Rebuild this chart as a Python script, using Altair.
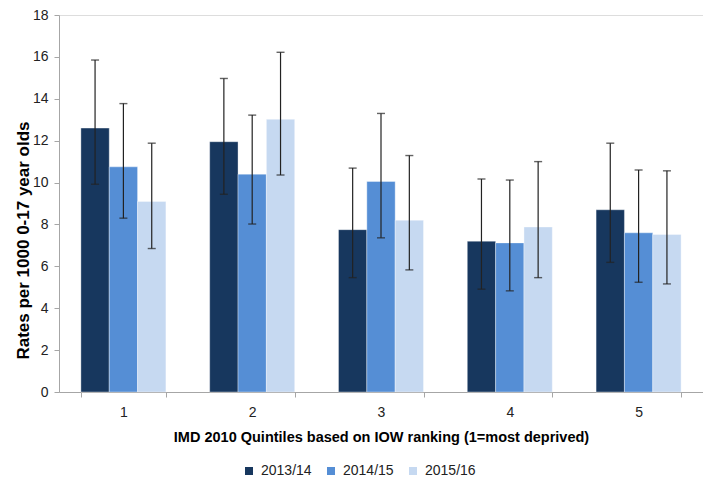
import altair as alt
import pandas as pd

quintiles = ["1", "2", "3", "4", "5"]
series = ["2013/14", "2014/15", "2015/16"]
rates = {
    "2013/14": [12.6, 11.95, 7.75, 7.2, 8.7],
    "2014/15": [10.75, 10.4, 10.05, 7.12, 7.6],
    "2015/16": [9.1, 13.02, 8.2, 7.88, 7.52],
}
lower = {
    "2013/14": [9.92, 9.44, 5.46, 4.91, 6.19],
    "2014/15": [8.3, 8.02, 7.36, 4.83, 5.24],
    "2015/16": [6.85, 10.36, 5.83, 5.46, 5.16],
}
upper = {
    "2013/14": [15.85, 14.97, 10.69, 10.17, 11.88],
    "2014/15": [13.77, 13.22, 13.3, 10.12, 10.6],
    "2015/16": [11.88, 16.22, 11.29, 11.0, 10.56],
}
colors = ["#17375E", "#558ED5", "#C6D9F1"]

rows = []
for s in series:
    for i, q in enumerate(quintiles):
        rows.append({"quintile": q, "series": s, "rate": rates[s][i],
                     "lo": lower[s][i], "hi": upper[s][i]})
df = pd.DataFrame(rows)

FONT = "Liberation Sans"

x = alt.X("quintile:N", sort=quintiles,
          scale=alt.Scale(paddingInner=0.34, paddingOuter=0.17),
          axis=alt.Axis(title="IMD 2010 Quintiles based on IOW ranking (1=most deprived)",
                        labelAngle=0, tickBand="extent", domainColor="#A6A6A6",
                        tickColor="#A6A6A6", tickSize=5, labelPadding=8,
                        labelFontSize=14, labelColor="#222", labelFont=FONT,
                        titleFont=FONT, titleFontSize=14.5, titleFontWeight="bold",
                        titlePadding=11, titleColor="#000"))
xo = alt.XOffset("series:N", sort=series, scale=alt.Scale(paddingInner=0, paddingOuter=0))

base = alt.Chart(df)

bars = base.mark_bar(stroke="#ffffff", strokeWidth=0.6, strokeOpacity=0.6).encode(
    x=x, xOffset=xo,
    y=alt.Y("rate:Q", scale=alt.Scale(domain=[0, 18]),
            axis=alt.Axis(title="Rates per 1000 0-17 year olds", values=list(range(0, 19, 2)),
                          grid=False, domainColor="#A6A6A6", tickColor="#A6A6A6",
                          tickSize=5, labelFontSize=14, labelColor="#222", labelFont=FONT,
                          labelPadding=6, titleFont=FONT, titleFontSize=17,
                          titleFontWeight="bold", titleX=-27, titleY=225,
                          titleColor="#000")),
    color=alt.Color("series:N", sort=series,
                    scale=alt.Scale(domain=series, range=colors),
                    legend=alt.Legend(title=None, orient="none", direction="horizontal",
                                      legendX=183, legendY=449, symbolType="square",
                                      symbolSize=64, symbolStrokeWidth=0,
                                      labelFontSize=14, labelFont=FONT, labelColor="#222",
                                      columnPadding=12, labelOffset=5)),
)

rules = base.mark_rule(color="#222", strokeWidth=1.2).encode(
    x=x, xOffset=xo, y="lo:Q", y2="hi:Q")
caps_hi = base.mark_tick(color="#222", size=8, thickness=1.4).encode(
    x=x, xOffset=xo, y="hi:Q")
caps_lo = base.mark_tick(color="#222", size=8, thickness=1.4).encode(
    x=x, xOffset=xo, y="lo:Q")

chart = alt.layer(bars, rules, caps_hi, caps_lo).properties(
    width=644, height=377,
    autosize=alt.AutoSizeParams(type="none"),
    padding={"left": 51, "top": 7, "right": 0, "bottom": 88},
).configure_view(stroke=None).configure(background="white")

chart.save("out.html", embed_options={"renderer": "svg", "actions": False})
